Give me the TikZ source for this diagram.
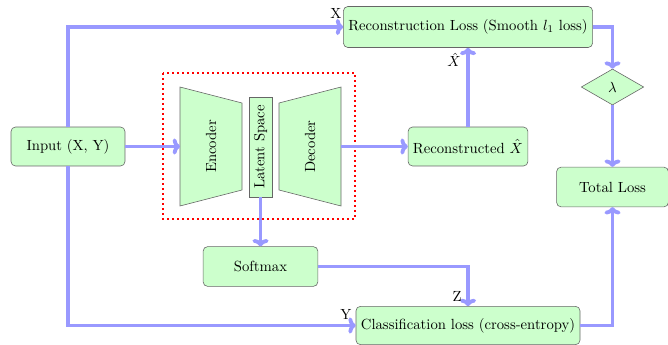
\documentclass[tikz,border=0pt]{standalone}
\usetikzlibrary{shapes.geometric,arrows.meta,calc}
\begin{document}
\begin{tikzpicture}[x=0.68pt,y=-0.68pt,
  box/.style={draw=black!60,fill=green!20,rounded corners=3pt,align=center},
  part/.style={draw=black!60,fill=green!20},
  flow/.style={draw=blue!40,line width=2.6pt,-{To[length=5pt,width=11pt]}},
  lnk/.style={draw=blue!40,line width=2.6pt}]
\useasboundingbox (0,0) rectangle (668,345);

% autoencoder group
\draw[red,dotted,line width=1.4pt] (163,73) rectangle (355,219);
\draw[part] (180,87) -- (242,103) -- (242,190) -- (180,206) -- cycle;
\draw[part] (279,103) -- (341,87) -- (341,206) -- (279,190) -- cycle;
\node[rotate=90] (enc) at (211,146.5) {Encoder};
\node[rotate=90] (dec) at (310,146.5) {Decoder};
\node[part,rotate=90,minimum width=68pt,minimum height=15.6pt,inner sep=1pt] (lat) at (260.5,147) {Latent Space};
\coordinate (encin) at (180,146.5);
\coordinate (decout) at (341,146.5);

% blocks
\node[box,minimum width=77.5pt,minimum height=26.5pt] (in) at (68,146.5) {Input (X, Y)};
\node[box,minimum width=166.6pt,minimum height=27.9pt] (rec) at (468,27) {Reconstruction Loss (Smooth $l_1$ loss)};
\node[box,minimum width=80.2pt,minimum height=26.5pt] (rx) at (468,146.5) {Reconstructed $\hat{X}$};
\node[draw=black!60,fill=green!20,diamond,minimum width=42.5pt,minimum height=24.5pt,inner sep=0pt] (lam) at (612.5,87) {$\lambda$};
\node[box,minimum width=76pt,minimum height=27pt] (tot) at (612.5,187) {Total Loss};
\node[box,minimum width=78pt,minimum height=27pt] (sm) at (260.5,266.5) {Softmax};
\node[box,minimum width=149.6pt,minimum height=26pt] (cls) at (468,325.5) {Classification loss (cross-entropy)};

% connectors
\draw[flow] (in.north) |- (rec.west);
\draw[flow] (in.east) -- (encin);
\draw[flow] (decout) -- (rx.west);
\draw[flow] (rx.north) -- (rec.south);
\draw[flow] (rec.east) -| (lam.north);
\draw[flow] (lam.south) -- (tot.north);
\draw[flow] (lat.west) -- (sm.north);
\draw[flow] (sm.east) -| (cls.north);
\draw[flow] (in.south) |- (cls.west);
\draw[flow] (cls.east) -| (tot.south);

% edge labels
\node at (336,13) {X};
\node at (454,60) {$\hat{X}$};
\node at (457,296) {Z};
\node at (346,314) {Y};
\end{tikzpicture}
\end{document}
